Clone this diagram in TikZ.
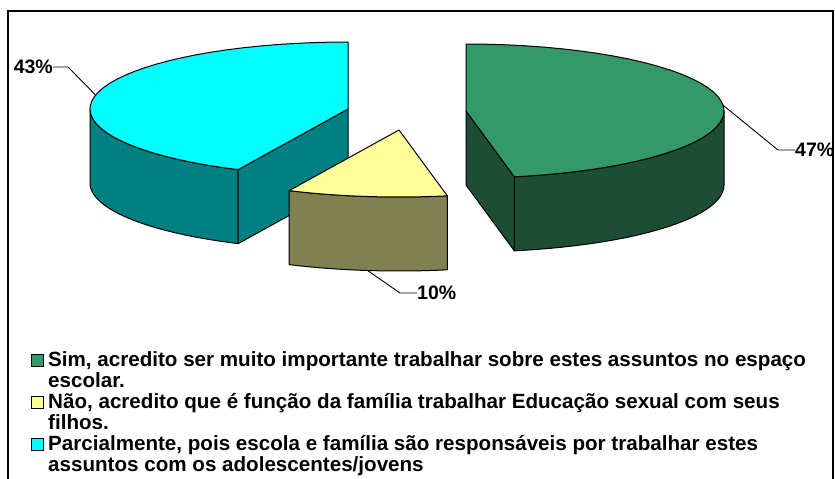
\documentclass[tikz,border=0pt]{standalone}
\usepackage{fontspec}
\setmainfont{Liberation Sans}
\usetikzlibrary{positioning}

\definecolor{simtop}{HTML}{339966}
\definecolor{simside}{HTML}{1E4D36}
\definecolor{naotop}{HTML}{FFFF99}
\definecolor{naoside}{HTML}{808050}
\definecolor{partop}{HTML}{00FFFF}
\definecolor{parside}{HTML}{008080}

% ellipse of the pie: a = 258, b = 67, depth 74
\newcommand\rimface[5]{%
  \filldraw[face, fill=#5] plot[domain=#3:#4, samples=30] ({#1+258*cos(\x)},{#2-67*sin(\x)})
    -- plot[domain=#4:#3, samples=30] ({#1+258*cos(\x)},{#2+74-67*sin(\x)}) -- cycle;}
\newcommand\cutface[4]{%
  \filldraw[face, fill=#4] (#1,#2) -- ({#1+258*cos(#3)},{#2-67*sin(#3)}) -- ++(0,74)
    -- (#1,#2+74) -- cycle;}
\newcommand\topface[5]{%
  \filldraw[face, fill=#5] (#1,#2) -- plot[domain=#3:#4, samples=40] ({#1+258*cos(\x)},{#2-67*sin(\x)}) -- cycle;}

\begin{document}
\begin{tikzpicture}[x=1pt, y=-1pt,
	face/.style = {draw, line width=1pt, line join=round},
	leader/.style = {line width=0.9pt},
	pct/.style = {font=\bfseries\fontsize{19.5}{22}\selectfont, inner sep=0pt},
	legtext/.style = {font=\bfseries\fontsize{20.6}{21}\selectfont, align=left, anchor=base west, inner sep=0pt},
	keybox/.style = {draw, line width=0.9pt, minimum size=12pt, inner sep=0pt}]
	\useasboundingbox (0,0) rectangle (835,479);
	\draw[line width=1.3pt] (8,479) -- (8,11) -- (833,11) -- (833,479);
	% Parcialmente 43%
	\rimface{348}{109}{180}{244.8}{parside}
	\cutface{348}{109}{244.8}{parside}
	\topface{348}{109}{90}{244.8}{partop}
	% Sim 47%
	\rimface{466}{111}{280.8}{360}{simside}
	\cutface{466}{111}{280.8}{simside}
	\topface{466}{111}{280.8}{450}{simtop}
	% Nao 10%
	\rimface{399}{130}{244.8}{280.8}{naoside}
	\topface{399}{130}{244.8}{280.8}{naotop}
	% labels
	\coordinate (e43) at ({348+258*cos(168)},{109-67*sin(168)});
	\coordinate (e47) at ({466+258*cos(5)},{111-67*sin(5)});
	\coordinate (e10) at ({399+258*cos(263)},{204-67*sin(263)});
	\node[pct, anchor=east] (p43) at (53,67) {43\%};
	\node[pct, anchor=west] (p47) at (795,150) {47\%};
	\node[pct, anchor=west] (p10) at (417,293) {10\%};
	\draw[leader] (p43.east) -- ++(15,0) -- (e43);
	\draw[leader] (p47.west) -- ++(-17,0) -- (e47);
	\draw[leader] (p10.west) -- ++(-17,0) -- (e10);
	% legend
	\node[keybox, fill=simtop] (k1) at (37,360) {};
	\node[keybox, fill=naotop] (k2) at (37,402) {};
	\node[keybox, fill=partop] (k3) at (37,444) {};
	\node[legtext] (l1) at (48,387) {Sim, acredito ser muito importante trabalhar sobre estes assuntos no espaço\\escolar.};
	\node[legtext] (l2) at (48,429) {Não, acredito que é função da família trabalhar Educação sexual com seus\\filhos.};
	\node[legtext] (l3) at (48,471) {Parcialmente, pois escola e família são responsáveis por trabalhar estes\\assuntos com os adolescentes/jovens};
\end{tikzpicture}
\end{document}
